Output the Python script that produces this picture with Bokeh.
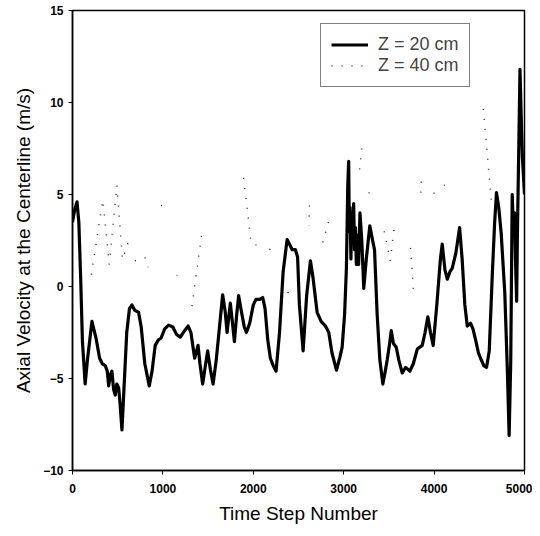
import math
from bokeh.plotting import figure
from bokeh.models import Range1d, FixedTicker, Legend, LegendItem
from bokeh.embed import file_html
from bokeh.resources import INLINE

# Z = 20 cm (solid)
x20 = [0, 25, 50, 70, 90, 110, 140, 165, 215, 260, 300, 330, 362, 385, 400, 420, 436, 455, 473, 490,
       510, 525, 547, 570, 600, 630, 658, 690, 731, 760, 800, 849, 880, 915, 950, 980, 1020, 1063,
       1110, 1150, 1193, 1240, 1280, 1310, 1351, 1389, 1410, 1440, 1470, 1495, 1525, 1555, 1590,
       1630, 1661, 1690, 1710, 1730, 1746, 1770, 1791, 1815, 1838, 1870, 1900, 1924, 1960, 2000,
       2030, 2070, 2104, 2130, 2160, 2189, 2220, 2252, 2290, 2330, 2374, 2410, 2430, 2466, 2490,
       2510, 2551, 2590, 2632, 2660, 2706, 2750, 2798, 2835, 2870, 2920, 2960, 2983, 3010, 3030,
       3045, 3055, 3062, 3070, 3080, 3090, 3100, 3110, 3120, 3130, 3140, 3150, 3165, 3180, 3200,
       3222, 3250, 3289, 3320, 3341, 3370, 3400, 3433, 3460, 3481, 3505, 3526, 3550, 3581, 3610,
       3648, 3684, 3710, 3732, 3770, 3814, 3869, 3900, 3931, 3960, 3990, 4030, 4070, 4090, 4120,
       4146, 4175, 4201, 4240, 4282, 4310, 4340, 4367, 4404, 4430, 4459, 4490, 4514, 4550, 4580,
       4610, 4643, 4670, 4690, 4715, 4742, 4782, 4810, 4830, 4848, 4864, 4878, 4890, 4900, 4913,
       4922, 4935, 4950, 4965, 4977, 5000]
y20 = [3.5, 4.2, 4.6, 3.5, 0.5, -3.0, -5.3, -4.0, -1.9, -2.8, -3.9, -4.2, -4.3, -4.6, -5.4, -4.8,
       -4.6, -5.6, -5.9, -5.3, -5.5, -6.3, -7.8, -5.5, -2.5, -1.2, -1.0, -1.3, -1.4, -2.2, -4.2,
       -5.4, -4.6, -3.2, -2.9, -2.8, -2.3, -2.1, -2.2, -2.6, -2.75, -2.4, -2.15, -2.5, -3.9, -3.2,
       -4.2, -5.3, -4.3, -3.5, -4.5, -5.3, -4.0, -2.0, -0.45, -1.4, -2.5, -1.6, -0.9, -2.0, -3.0,
       -1.6, -0.5, -1.4, -2.2, -2.5, -2.0, -1.0, -0.7, -0.7, -0.6, -1.2, -2.9, -3.9, -4.3, -4.6,
       -2.5, 0.8, 2.55, 2.2, 2.0, 2.0, 1.6, -1.0, -3.5, -0.5, 1.4, 0.5, -1.4, -1.9, -2.15, -2.5,
       -3.6, -4.55, -3.8, -3.3, -1.5, 1.0, 5.5, 6.8, 3.0, 4.3, 1.5, 4.0, 2.8, 4.5, 2.0, 3.2, 1.2,
       2.8, 1.2, 4.0, 2.5, -0.1, 1.5, 3.3, 2.5, 2.0, -1.5, -4.0, -5.3, -4.6, -4.0, -3.2, -2.4,
       -3.1, -3.3, -4.0, -4.7, -4.4, -4.5, -4.6, -4.2, -3.4, -3.2, -2.5, -1.65, -2.5, -3.2, -1.0,
       1.5, 2.3, 0.9, 0.4, 0.8, 1.0, 1.8, 3.2, 1.5, -1.0, -2.15, -2.0, -2.3, -2.9, -3.6, -3.9,
       -4.3, -4.4, -3.5, 0.56, 3.5, 5.1, 4.3, 2.9, -0.35, -4.5, -8.1, -4.0, 5.0, 3.0, 4.0, 1.5,
       -0.8, 3.0, 7.0, 11.8, 9.0, 7.0, 5.0]

NaN = float("nan")
# Z = 40 cm (dotted, only partly visible; NaN separates visible stretches)
x40 = [207, 336, 406, 491, 553, 617, NaN, 691, 805, 838, NaN, 979, 990, NaN, 1152, 1160, NaN,
       1322, 1433, NaN, 1893, 1975, 2034, NaN, 2182, 2208, NaN, 2385, 2392, NaN, 2621, 2618, NaN,
       2768, 2854, NaN, 3200, 3168, NaN, 3275, 3285, NaN, 3448, 3515, 3563, NaN, 3740, 3773, NaN,
       3858, 3850, NaN, 3998, 4027, NaN, 4108, 4118, NaN, 4545, 4634]
y40 = [0.65, 4.7, 1.2, 5.5, 1.47, 2.4, NaN, 1.4, 1.55, 1.05, NaN, 4.4, 4.4, NaN, 0.6, 0.6, NaN,
       -1.07, 3.0, NaN, 5.9, 2.4, 2.25, NaN, 2.0, 2.5, NaN, -0.3, -0.85, NaN, 4.4, 3.3, NaN,
       2.4, 3.9, NaN, 7.5, 6.0, NaN, 5.1, 5.1, NaN, 3.0, 1.4, 3.4, NaN, 2.1, -0.4, NaN,
       5.7, 4.7, NaN, 5.1, 4.6, NaN, 5.5, 5.5, NaN, 9.65, 4.6]

x_ticks = [0, 1000, 2000, 3000, 4000, 5000]
y_ticks = [-10, -5, 0, 5, 10, 15]

p = figure(width=532, height=530, output_backend="svg", toolbar_location=None,
           x_range=Range1d(0, 5000), y_range=Range1d(-10, 15),
           min_border_left=72, min_border_right=8, min_border_top=10, min_border_bottom=60)

r20 = p.line(x20, y20, line_color="black", line_width=3.2, line_join="round")
r40 = p.line(x40, y40, line_color="#333333", line_width=1.5, line_dash="1 9")

p.xgrid.visible = False
p.ygrid.visible = False
p.outline_line_color = "black"
p.outline_line_width = 1.5

for ax in (p.xaxis[0], p.yaxis[0]):
    ax.axis_line_width = 1.5
    ax.axis_line_color = "black"
    ax.major_tick_line_color = "black"
    ax.major_tick_out = 4
    ax.major_tick_in = 0
    ax.minor_tick_line_color = None
    ax.major_label_text_font = "Liberation Sans"
    ax.major_label_text_font_style = "bold"
    ax.major_label_text_font_size = "12px"
    ax.major_label_text_color = "black"
    ax.axis_label_text_font = "Liberation Sans"
    ax.axis_label_text_font_style = "normal"
    ax.axis_label_text_font_size = "19px"
    ax.axis_label_text_color = "black"

p.xaxis[0].ticker = FixedTicker(ticks=x_ticks)
p.yaxis[0].ticker = FixedTicker(ticks=y_ticks)
p.xaxis[0].axis_label = "Time Step Number"
p.yaxis[0].axis_label = "Axial Velocity at the Centerline (m/s)"
p.xaxis[0].major_label_standoff = 9
p.xaxis[0].axis_label_standoff = 7
p.yaxis[0].major_label_standoff = 5
p.yaxis[0].axis_label_standoff = 6

legend = Legend(items=[LegendItem(label="Z = 20 cm", renderers=[r20]),
                       LegendItem(label="Z = 40 cm", renderers=[r40])],
                location=(248, 383))
legend.label_text_font = "Liberation Sans"
legend.label_text_font_size = "18px"
legend.label_height = 17
legend.glyph_height = 17
legend.glyph_width = 37
legend.label_standoff = 10
legend.padding = 10
legend.spacing = 0
legend.margin = 0
legend.border_line_color = "black"
legend.border_line_width = 1
legend.background_fill_alpha = 1
p.add_layout(legend)

open("out.html", "w").write(file_html(p, INLINE))
